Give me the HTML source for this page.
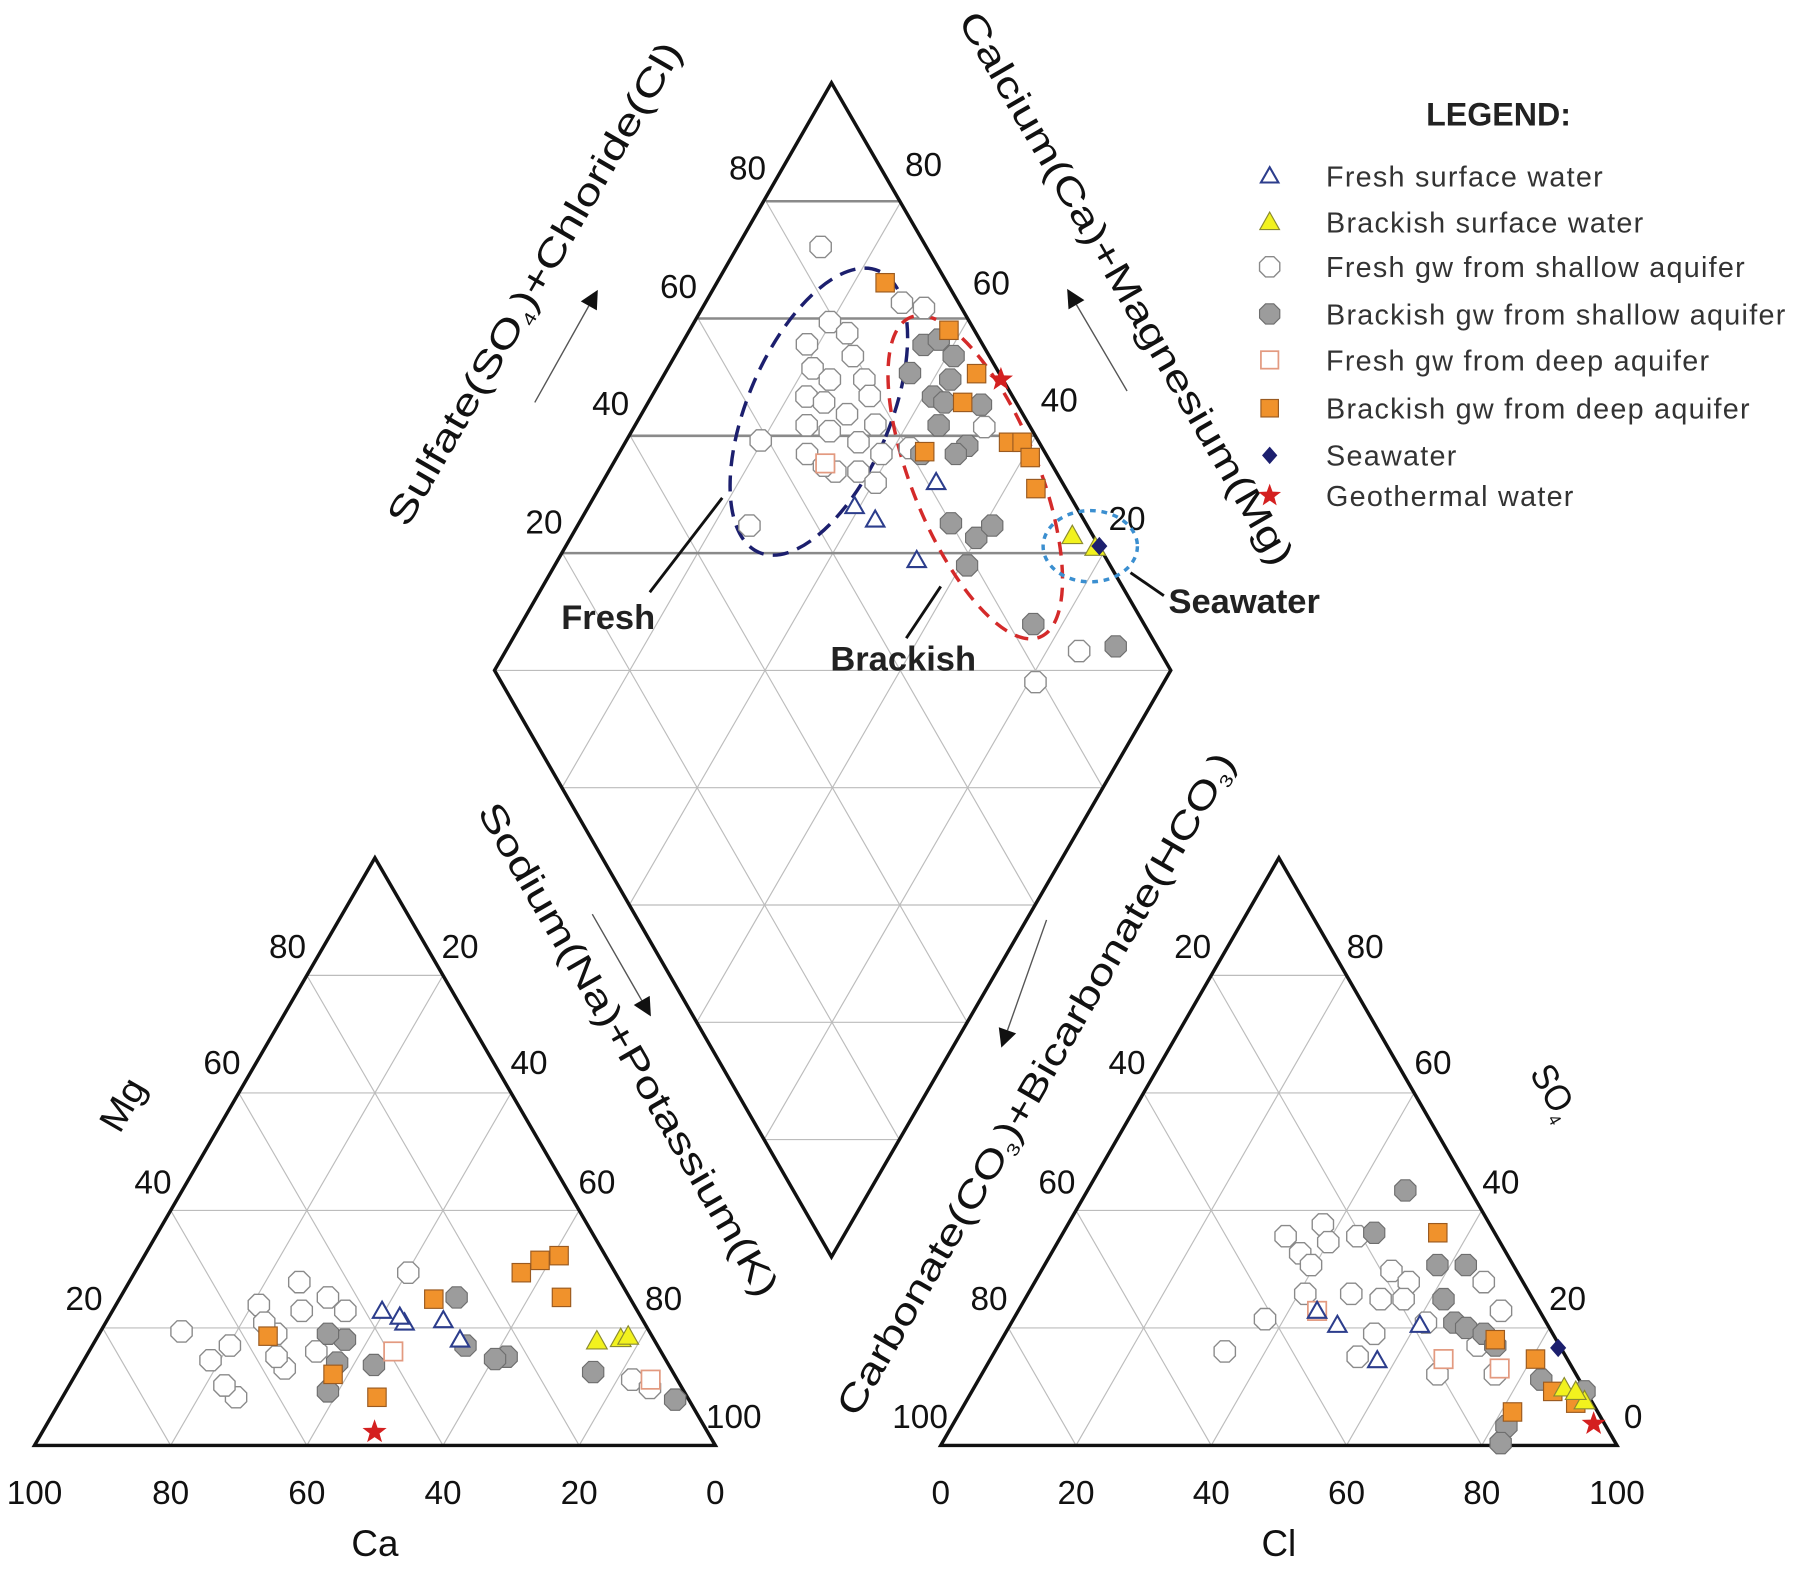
<!DOCTYPE html>
<html><head><meta charset="utf-8"><title>Piper diagram</title>
<style>
html,body{margin:0;padding:0;background:#fff;}
svg{display:block;font-family:"Liberation Sans",Arial,sans-serif;}
</style></head>
<body>
<svg id="chart" width="1801" height="1580" viewBox="0 0 1566 1374" preserveAspectRatio="none" xmlns="http://www.w3.org/2000/svg">
<g id="grid"></g>
<g id="frames"></g>
<g id="labels"></g>
<g id="annot"></g>
<g id="marks"></g>
<g id="legend"></g>
</svg>
<script>
// ---------- DATA ----------
const tickValues = [20, 40, 60, 80];
const bottomTicksCation = ["100","80","60","40","20","0"];
const bottomTicksAnion = ["0","20","40","60","80","100"];
const groupNames = ["Fresh surface water","Brackish surface water","Fresh gw from shallow aquifer","Brackish gw from shallow aquifer","Fresh gw from deep aquifer","Brackish gw from deep aquifer","Seawater","Geothermal water"];
const groupKeys = ["freshSurf","brackSurf","freshShallow","brackShallow","freshDeep","brackDeep","sea","geo"];

// Cation triangle: [Ca %, Mg %]
const cationFreshSurf = [[37.5,22.9],[35.2,20.9],[29.3,21.3],[28.5,18.0],[35.4,21.9]];
const cationBrackSurf = [[8.5,17.8],[4.8,18.2],[3.5,18.6]];
const cationFreshShallow = [[68.7,19.4],[66.9,14.5],[62.8,17.0],[66.3,8.2],[67.0,10.2],[55.1,23.9],[55.0,19.0],[55.8,20.9],[47.2,27.8],[49.3,22.9],[44.3,25.2],[42.9,22.9],[56.7,13.1],[50.6,16.0],[30.4,29.4],[56.9,15.1],[6.6,11.2],[4.7,9.8]];
const cationBrackShallow = [[45.4,18.0],[48.5,14.1],[43.3,13.7],[52.3,9.2],[25.4,25.2],[28.2,17.0],[23.1,15.1],[25.0,14.7],[11.7,12.5],[2.0,7.8],[47.4,19.0]];
const cationFreshDeep = [[39.3,16.0],[3.9,11.2]];
const cationBrackDeep = [[56.4,18.6],[50.1,12.1],[45.6,8.2],[28.9,24.9],[13.8,29.4],[10.0,31.5],[6.8,32.3],[10.0,25.2]];
const cationSea = [];
const cationGeo = [[48.9,2.3]];

// Anion triangle: [Cl %, SO4 %]
const anionFreshSurf = [[44.2,22.9],[48.4,20.5],[60.6,20.5],[57.3,14.5]];
const anionBrackSurf = [[87.3,9.8],[91.4,7.6],[89.3,9.2]];
const anionFreshShallow = [[34.0,16.0],[37.2,21.5],[33.2,35.6],[36.8,32.7],[37.7,37.6],[40.0,34.6],[43.8,35.6],[39.4,30.7],[41.0,25.8],[47.8,25.8],[52.6,24.9],[51.8,29.7],[55.3,27.8],[54.6,19.0],[61.3,20.9],[67.4,12.1],[66.4,27.8],[71.4,22.9],[75.9,12.1],[70.9,17.0],[56.0,24.9],[54.1,15.1]];
const anionBrackShallow = [[47.0,43.4],[46.0,36.2],[58.1,30.7],[61.9,24.9],[62.3,30.7],[65.5,20.9],[67.7,20.0],[70.8,19.0],[83.2,11.2],[82.0,3.3],[82.6,0.4],[73.5,17.0],[90.6,9.2]];
const anionFreshDeep = [[44.2,22.9],[67.0,14.7],[76.1,13.1]];
const anionBrackDeep = [[55.4,36.2],[80.6,14.7],[73.0,18.0],[85.9,9.2],[90.3,7.2],[81.7,5.7]];
const anionSea = [[83.0,16.6]];
const anionGeo = [[94.7,3.7]];

// Diamond: [Na+K %, SO4+Cl %]
const diamondFreshSurf = [[67.2,60.8],[69.1,56.6],[81.3,50.8],[71.8,47.0]];
const diamondBrackSurf = [[96.9,26.1],[99.3,21.7]];
const diamondFreshShallow = [[84.2,88.0],[73.9,81.7],[79.2,80.2],[80.8,76.7],[72.7,78.8],[74.3,75.3],[79.7,73.9],[79.4,70.2],[69.4,77.3],[71.5,74.2],[73.9,69.8],[78.8,68.0],[67.0,74.8],[69.9,70.9],[73.2,65.7],[77.2,64.7],[58.9,80.3],[64.6,72.3],[67.3,66.6],[70.7,63.2],[75.6,61.3],[80.3,57.6],[50.0,74.7],[91.5,71.2],[94.3,67.5],[93.1,48.4],[79.0,19.0],[88.1,15.2],[72.3,59.7],[66.1,68.8]];
const diamondBrackShallow = [[91.1,64.4],[93.8,62.6],[86.7,64.0],[94.6,59.0],[92.1,57.5],[88.1,58.6],[89.3,56.4],[94.5,50.8],[89.0,49.3],[86.5,55.3],[81.5,55.4],[86.6,50.3],[80.0,45.1],[82.5,40.1],[85.9,38.8],[78.8,39.1],[83.6,24.3],[93.9,10.2]];
const diamondFreshDeep = [[66.5,68.8]];
const diamondBrackDeep = [[90.7,75.4],[96.1,61.9],[96.5,54.1],[92.0,53.7],[95.4,43.5],[97.4,41.5],[97.3,39.0],[95.5,35.5],[82.2,55.1]];
const diamondSea = [[100,21.2]];
const diamondGeo = [[99.6,50.0]];

// ---------- GEOMETRY ----------
const NS = "http://www.w3.org/2000/svg";
function mk(tag, attrs, parent){ const e=document.createElementNS(NS,tag); for(const k in attrs) e.setAttribute(k,attrs[k]); if(parent) parent.appendChild(e); return e; }
const G = id => document.getElementById(id);

const CAT = {ca:[30,1257], na:[622,1257], mg:[326,746]};
const AN = {hco3:[818,1257], cl:[1406,1257], so4:[1112,746]};
const DIA = {bottom:[723,1093], right:[1018,583], left:[430,583], top:[723,72]};

function cationXY(ca, mg){ const c=ca/100, m=mg/100, n=1-c-m;
  return [CAT.ca[0]*c+CAT.na[0]*n+CAT.mg[0]*m, CAT.ca[1]*c+CAT.na[1]*n+CAT.mg[1]*m]; }
function anionXY(cl, so4){ const l=cl/100, s=so4/100, h=1-l-s;
  return [AN.hco3[0]*h+AN.cl[0]*l+AN.so4[0]*s, AN.hco3[1]*h+AN.cl[1]*l+AN.so4[1]*s]; }
function diamondXY(nak, so4cl){ const s=nak/100, t=so4cl/100; const b=DIA.bottom;
  return [b[0]+s*(DIA.right[0]-b[0])+t*(DIA.left[0]-b[0]), b[1]+s*(DIA.right[1]-b[1])+t*(DIA.left[1]-b[1])]; }

// ---------- GRID ----------
const grid = G('grid');
function line(p,q,stroke,w,parent,name){ const l=mk('line',{x1:p[0],y1:p[1],x2:q[0],y2:q[1],stroke:stroke,'stroke-width':w},parent);
  
   return l; }
const LG = "#bcbcbc";
tickValues.forEach(v=>{
  line(cationXY(100-v,v),cationXY(0,v),LG,1,grid,'cation-grid-mg');
  line(cationXY(v,0),cationXY(v,100-v),LG,1,grid,'cation-grid-ca');
  line(cationXY(0,100-v),cationXY(100-v,0),LG,1,grid,'cation-grid-na');
  line(anionXY(0,v),anionXY(100-v,v),LG,1,grid,'anion-grid-so4');
  line(anionXY(v,0),anionXY(v,100-v),LG,1,grid,'anion-grid-cl');
  line(anionXY(100-v,0),anionXY(0,100-v),LG,1,grid,'anion-grid-hco3');
  line(diamondXY(v,0),diamondXY(v,100),LG,1,grid,'diamond-grid-nak');
  line(diamondXY(0,v),diamondXY(100,v),LG,1,grid,'diamond-grid-so4cl');
});
[20,40,60,80,100,120,140,160,180].forEach(S=>{
  const lo=Math.max(0,S-100), hi=Math.min(100,S);
  const upper = S>100;
  line(diamondXY(hi,S-hi),diamondXY(lo,S-lo), upper?"#8a8a8a":LG, upper?2.2:1, grid, 'diamond-grid-horizontal');
});

// ---------- FRAMES ----------
const fr = G('frames');
mk('polygon',{points:[CAT.ca,CAT.na,CAT.mg].map(p=>p.join(',')).join(' '),fill:'none',stroke:'#111','stroke-width':3,},fr);
mk('polygon',{points:[AN.hco3,AN.cl,AN.so4].map(p=>p.join(',')).join(' '),fill:'none',stroke:'#111','stroke-width':3,},fr);
mk('polygon',{points:[DIA.bottom,DIA.right,DIA.top,DIA.left].map(p=>p.join(',')).join(' '),fill:'none',stroke:'#111','stroke-width':3,},fr);

// ---------- LABELS ----------
const lab = G('labels');
function txt(x,y,s,opts,name){ const t=mk('text',Object.assign({x:x,y:y,'font-size':29,'text-anchor':'middle',fill:'#111'},opts||{}),lab); t.textContent=s;
  
   return t; }
bottomTicksCation.forEach((s,i)=>txt(30+i*118.4,1308,s,{},'cation-ca-tick'));
bottomTicksAnion.forEach((s,i)=>txt(818+i*117.6,1308,s,{},'anion-cl-tick'));
txt(326,1353,"Ca",{'font-size':32},'cation-x-title');
txt(1112,1353,"Cl",{'font-size':32},'anion-x-title');
[["20",73,1139],["40",133,1038],["60",193,934],["80",250,833]].forEach(a=>txt(a[1],a[2],a[0],{},'cation-mg-tick'));
[["20",400,833],["40",460,934],["60",519,1038],["80",577,1139],["100",638,1242]].forEach(a=>txt(a[1],a[2],a[0],{},'cation-na-tick'));
[["20",1037,833],["40",980,934],["60",919,1038],["80",860,1139],["100",800,1242]].forEach(a=>txt(a[1],a[2],a[0],{},'anion-hco3-tick'));
[["80",1187,833],["60",1246,934],["40",1305,1038],["20",1363,1139],["0",1420,1242]].forEach(a=>txt(a[1],a[2],a[0],{},'anion-so4-tick'));
[["80",650,156],["60",590,259],["40",531,361],["20",473,464]].forEach(a=>txt(a[1],a[2],a[0],{},'diamond-so4cl-tick'));
[["80",803,153],["60",862,256],["40",921,358],["20",980,461]].forEach(a=>txt(a[1],a[2],a[0],{},'diamond-camg-tick'));

function rtitle(cx,cy,ang,parts,len,name){
  const t=mk('text',{x:0,y:0,'font-size':32,'text-anchor':'middle',fill:'#111',transform:`translate(${cx},${cy}) rotate(${ang})`,textLength:len,lengthAdjust:'spacingAndGlyphs'},lab);
  
  
  parts.forEach(p=>{ const s=mk('tspan',{},t); s.textContent=p[0]; if(p[1]){ s.setAttribute('font-size',15); s.setAttribute('dy',6);} if(p[2]) s.setAttribute('dy',-6); });
}
rtitle(474,252,-60,[["Sulfate(SO"],["4",1],[")+Chloride(Cl)",0,1]],480,'diamond-left-title');
rtitle(970,256,60,[["Calcium(Ca)+Magnesium(Mg)"]],550,'diamond-right-title');
rtitle(537,918,60,[["Sodium(Na)+Potassium(K)"]],490,'cation-right-title');
rtitle(910,948,-60,[["Carbonate(CO"],["3",1],[")+Bicarbonate(HCO",0,1],["3",1],[")",0,1]],660,'anion-left-title');
rtitle(116,966,-60,[["Mg"]],48,'cation-left-title');
rtitle(1342,955,60,[["SO"],["4",1]],50,'anion-right-title');

const an = G('annot');
function arrow(p,q,name){ line(p,q,'#555',1.2,an,name);
  const dx=q[0]-p[0], dy=q[1]-p[1], L=Math.hypot(dx,dy), ux=dx/L, uy=dy/L, px=-uy, py=ux;
  const tip=[q[0]+ux*16,q[1]+uy*16];
  const pg=mk('polygon',{points:`${tip[0]},${tip[1]} ${q[0]+px*8},${q[1]+py*8} ${q[0]-px*8},${q[1]-py*8}`,fill:'#111'},an);
  
   }
arrow([465,350],[512,266],'diamond-left-arrow');
arrow([980,340],[936,265],'diamond-right-arrow');
arrow([515,795],[558,870],'cation-arrow');
arrow([910,800],[876,896],'anion-arrow');

function ell(cx,cy,rx,ry,rot,col,dash,name){ const e=mk('ellipse',{cx:cx,cy:cy,rx:rx,ry:ry,transform:`rotate(${rot} ${cx} ${cy})`,fill:'none',stroke:col,'stroke-width':3,'stroke-dasharray':dash},an);
  
   }
ell(712,358,62,133,23,'#1c1f6e','14 8','fresh-zone-ellipse');
ell(848,415,55,150,-22,'#d42a2a','12 8','brackish-zone-ellipse');
ell(948,475,41,31,0,'#3b8fd0','5 5','seawater-zone-circle');
line([628,433],[565,515],'#111',2.5,an,'fresh-callout-line');
line([818,510],[788,555],'#111',2.5,an,'brackish-callout-line');
line([983,498],[1012,518],'#111',2.5,an,'seawater-callout-line');
function btxt(x,y,s,name){ const t=mk('text',{x:x,y:y,'font-size':30,'font-weight':'bold',fill:'#222'},an); t.textContent=s;
  
   }
btxt(488,547,"Fresh",'fresh-label');
btxt(722,583,"Brackish",'brackish-label');
btxt(1016,533,"Seawater",'seawater-label');

// ---------- MARKERS ----------
function hexPts(x,y,r){ let a=[]; for(let i=0;i<8;i++){const t=Math.PI/8+i*Math.PI/4; a.push((x+r*Math.cos(t)).toFixed(1)+','+(y+r*Math.sin(t)).toFixed(1));} return a.join(' '); }
function marker(key,x,y,parent,size){
  const k=size||1; let e;
  if(key==='freshSurf') e=mk('polygon',{points:`${x},${y-8*k} ${x+8*k},${y+6*k} ${x-8*k},${y+6*k}`,fill:'#fff',stroke:'#2c3d8c','stroke-width':1.8},parent);
  else if(key==='brackSurf') e=mk('polygon',{points:`${x},${y-9*k} ${x+9*k},${y+7*k} ${x-9*k},${y+7*k}`,fill:'#f2f21e',stroke:'#8a8a30','stroke-width':1},parent);
  else if(key==='freshShallow') e=mk('polygon',{points:hexPts(x,y,10*k),fill:'#fff',stroke:'#8a8a8a','stroke-width':1.2},parent);
  else if(key==='brackShallow') e=mk('polygon',{points:hexPts(x,y,10*k),fill:'#9c9c9c',stroke:'#6e6e6e','stroke-width':1},parent);
  else if(key==='freshDeep') e=mk('rect',{x:x-8*k,y:y-8*k,width:16*k,height:16*k,fill:'#fff',stroke:'#e39a80','stroke-width':1.5},parent);
  else if(key==='brackDeep') e=mk('rect',{x:x-8*k,y:y-8*k,width:16*k,height:16*k,fill:'#f0922c',stroke:'#9a5a20','stroke-width':1},parent);
  else if(key==='sea') e=mk('polygon',{points:`${x},${y-8*k} ${x+7*k},${y} ${x},${y+8*k} ${x-7*k},${y}`,fill:'#1c1f6e'},parent);
  else { let p=[]; for(let i=0;i<10;i++){const r=i%2?4.5*k:11*k, t=-Math.PI/2+i*Math.PI/5; p.push((x+r*Math.cos(t)).toFixed(1)+','+(y+r*Math.sin(t)).toFixed(1));}
    e=mk('polygon',{points:p.join(' '),fill:'#d42020'},parent); }
  return e;
}
const marks = G('marks');
const cationSets = {freshShallow:cationFreshShallow,brackShallow:cationBrackShallow,freshDeep:cationFreshDeep,brackDeep:cationBrackDeep,freshSurf:cationFreshSurf,brackSurf:cationBrackSurf,sea:cationSea,geo:cationGeo};
const anionSets = {freshShallow:anionFreshShallow,brackShallow:anionBrackShallow,freshDeep:anionFreshDeep,brackDeep:anionBrackDeep,freshSurf:anionFreshSurf,brackSurf:anionBrackSurf,sea:anionSea,geo:anionGeo};
const diamondSets = {freshShallow:diamondFreshShallow,brackShallow:diamondBrackShallow,freshDeep:diamondFreshDeep,brackDeep:diamondBrackDeep,freshSurf:diamondFreshSurf,brackSurf:diamondBrackSurf,sea:diamondSea,geo:diamondGeo};
const order = ["freshShallow","brackShallow","freshDeep","brackDeep","freshSurf","brackSurf","sea","geo"];
order.forEach(key=>{
  cationSets[key].forEach(d=>{ const p=cationXY(d[0],d[1]); const e=marker(key,p[0],p[1],marks);
    
     });
  anionSets[key].forEach(d=>{ const p=anionXY(d[0],d[1]); const e=marker(key,p[0],p[1],marks);
    
     });
  diamondSets[key].forEach(d=>{ const p=diamondXY(d[0],d[1]); const e=marker(key,p[0],p[1],marks);
    
     });
});

// ---------- LEGEND ----------
const lg = G('legend');
const lt = mk('text',{x:1240,y:109,'font-size':28,'font-weight':'bold',fill:'#222'},lg); lt.textContent="LEGEND:";


const legY = [153,193,232,273,313,355,396,431];
groupKeys.forEach((k,i)=>{
  const m=marker(k,1104,legY[i],lg,0.95);
  
  
  const t=mk('text',{x:1153,y:legY[i]+9,'font-size':25,fill:'#333','letter-spacing':'1.1'},lg); t.textContent=groupNames[i];
  
  
});
</script>
</body></html>
